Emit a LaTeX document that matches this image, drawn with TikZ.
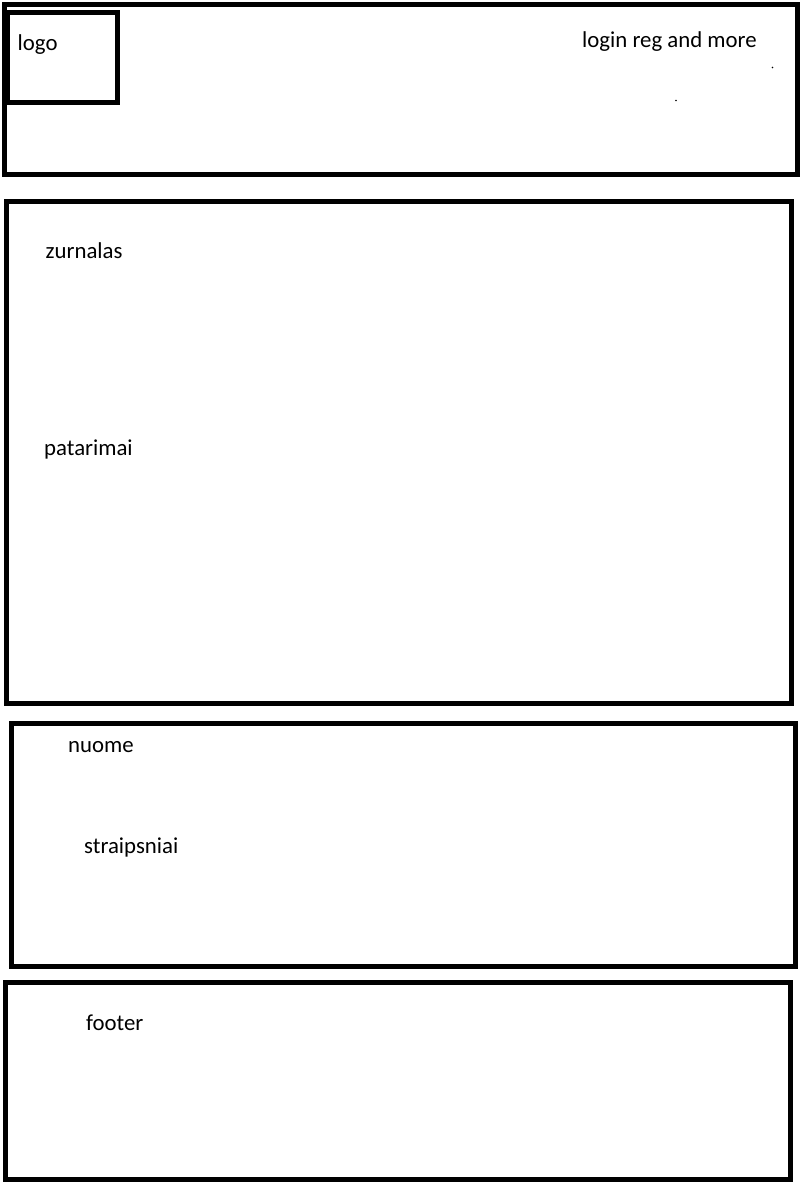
\documentclass[tikz,border=0pt]{standalone}
\usepackage{fontspec}
\setmainfont{Carlito}
\begin{document}
\begin{tikzpicture}[x=1pt,y=-1pt,
  box/.style={draw=black,line width=5pt,inner sep=0pt,outer sep=0pt,fill=none},
  lbl/.style={anchor=base west,inner sep=0pt,font=\fontsize{22.8pt}{26pt}\selectfont},
  speck/.style={fill=black}]
\useasboundingbox[fill=white] (0,0) rectangle (803,1187);
\node[box,minimum width=793pt,minimum height=169.5pt] (header) at (401,89.25) {};
\node[box,minimum width=110pt,minimum height=90pt] (logo) at (62,57) {};
\node[box,minimum width=785pt,minimum height=501.5pt] (main) at (399,452.25) {};
\node[box,minimum width=783.5pt,minimum height=242.5pt] (nuome) at (403.25,844.75) {};
\node[box,minimum width=785pt,minimum height=197.5pt] (footer) at (398,1080.75) {};
\node[lbl] (tlogo) at (17.5,50) {logo};
\node[lbl] (tlogin) at (582,47) {login reg and more};
\node[lbl] (tzur) at (45.5,258) {zurnalas};
\node[lbl] (tpat) at (44,455) {patarimai};
\node[lbl] (tnuo) at (68,752) {nuome};
\node[lbl] (tstr) at (84,853) {straipsniai};
\node[lbl] (tfoot) at (86,1030) {footer};
\fill[speck] (772.5,67.5) circle (0.9);
\fill[speck] (676,100.5) circle (0.9);
\end{tikzpicture}
\end{document}
